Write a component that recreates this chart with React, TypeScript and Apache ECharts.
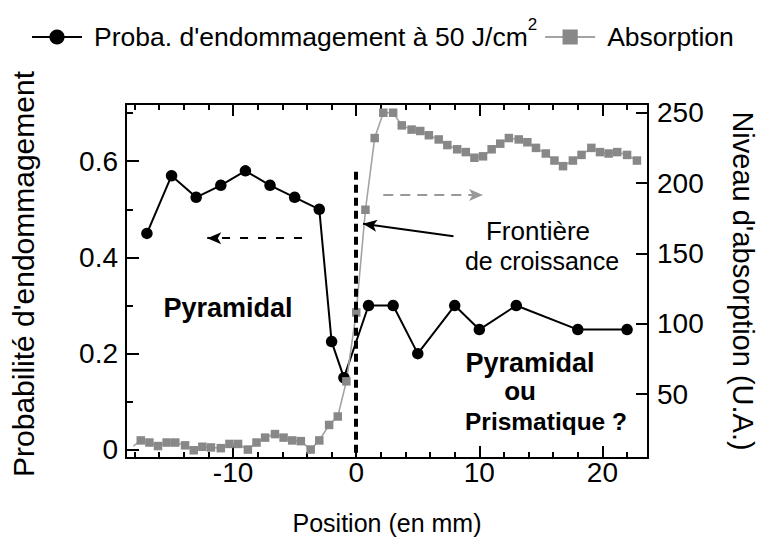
import React, { useEffect, useRef } from 'react';
import * as echarts from 'echarts';

// ---------- data ----------
const PROBA = "Proba. d'endommagement à 50 J/cm2";
const ABS = 'Absorption';

const probaX = [-17, -15, -13, -11, -9, -7, -5, -3, -2, -1, 1, 3, 5, 8, 10, 13, 18, 22];
const probaY = [0.45, 0.57, 0.525, 0.55, 0.58, 0.55, 0.525, 0.5, 0.225, 0.15, 0.3, 0.3, 0.2, 0.3, 0.25, 0.3, 0.25, 0.25];

const absX = [
  -18.1, -17.5, -16.8, -16.1, -15.4, -14.7, -13.9, -13.2, -12.5, -11.8, -11.0, -10.3, -9.6, -8.8, -8.1,
  -7.4, -6.6, -5.9, -5.2, -4.5, -3.7, -3.0, -2.2, -1.5, -0.8, 0.0, 0.75, 1.5, 2.2, 3.0, 3.7, 4.5, 5.2,
  5.9, 6.7, 7.4, 8.2, 8.9, 9.6, 10.3, 11.0, 11.7, 12.4, 13.2, 13.9, 14.6, 15.4, 16.1, 16.8, 17.6, 18.3,
  19.1, 19.8, 20.5, 21.2, 22.0, 22.8,
];
const absY = [
  13, 17, 15.5, 13, 15.5, 15.5, 13.5, 10, 12.5, 12, 11.5, 14.5, 14.5, 10.5, 15.5,
  19, 21.5, 19, 17, 16.5, 10.5, 17, 28, 34, 59, 108, 181, 232, 250, 250, 241, 238, 237,
  234, 231, 227, 224, 222, 218, 219, 224, 228, 232, 231, 229, 225, 221, 216, 212, 216, 220,
  225, 222, 221, 222, 220, 216,
];

const xRange = [-18.7, 23.7];
const yLeftRange = [-0.017, 0.719];
const yRightRange = [4.5, 256.2];

const boundaryX = 0;
const boundaryTop = 0.578;

// annotation arrows (data units of the left axis)
const leftArrow = { from: [-4.4, 0.44], to: [-12.1, 0.44] };
const rightArrow = { from: [2.2, 0.53], to: [10.3, 0.53] };
const frontArrow = { from: [7.9, 0.444], to: [0.55, 0.47] };

const FONT = "'Liberation Sans', Arial, Helvetica, sans-serif";

const isMult = (v: number, step: number) => Math.abs(v / step - Math.round(v / step)) < 1e-6;

const tickStyle = { color: '#000', width: 2 };

function buildOption(): any {
  const axisLine = { show: true, onZero: false, lineStyle: { color: '#000', width: 2 } };
  const xCommon = {
    type: 'value',
    min: xRange[0],
    max: xRange[1],
    splitNumber: 5,
    splitLine: { show: false },
    axisLine,
    axisTick: { show: true, inside: true, length: 12, lineStyle: tickStyle },
    minorTick: { show: true, splitNumber: 5, length: 6, lineStyle: tickStyle },
  };
  const bold = (text: string, x: number, y: number, size: number) => ({
    type: 'text',
    x,
    y,
    style: { text, fontSize: size, fontWeight: 'bold', fontFamily: FONT, fill: '#000', align: 'center', verticalAlign: 'middle' },
  });
  const plain = (text: string, x: number, y: number, size: number) => ({
    type: 'text',
    x,
    y,
    style: { text, fontSize: size, fontFamily: FONT, fill: '#000', align: 'center', verticalAlign: 'middle' },
  });
  return {
    animation: false,
    backgroundColor: '#fff',
    textStyle: { fontFamily: FONT },
    legend: {
      top: 16,
      left: 31,
      padding: 0,
      itemWidth: 50,
      itemHeight: 19,
      itemGap: 7,
      data: [PROBA, ABS],
      formatter: (name: string) =>
        name === PROBA ? "Proba. d'endommagement à 50 J/cm{sup|2}" : name,
      textStyle: {
        fontSize: 26.5,
        color: '#000',
        fontFamily: FONT,
        lineHeight: 42,
        padding: [0, 0, 0, 7],
        rich: {
          sup: { fontSize: 17, fontFamily: FONT, color: '#000', verticalAlign: 'top', lineHeight: 17 },
        },
      },
    },
    grid: { left: 126, right: 116, top: 104, bottom: 88 },
    xAxis: [
      {
        ...xCommon,
        position: 'bottom',
        name: 'Position (en mm)',
        nameLocation: 'middle',
        nameGap: 52,
        nameTextStyle: { fontSize: 25, color: '#000', fontFamily: FONT },
        axisLabel: {
          show: true,
          fontSize: 28,
          color: '#000',
          fontFamily: FONT,
          margin: 0,
          formatter: (v: number) => (isMult(v, 10) ? String(v) : ''),
        },
      },
      {
        ...xCommon,
        position: 'top',
        axisLabel: { show: false },
      },
    ],
    yAxis: [
      {
        type: 'value',
        position: 'left',
        min: yLeftRange[0],
        max: yLeftRange[1],
        splitNumber: 4,
        splitLine: { show: false },
        axisLine,
        axisTick: { show: true, inside: true, length: 13, lineStyle: tickStyle },
        minorTick: { show: true, splitNumber: 2, length: 7, lineStyle: tickStyle },
        axisLabel: {
          fontSize: 28,
          color: '#000',
          fontFamily: FONT,
          margin: 8,
          formatter: (v: number) => (isMult(v, 0.2) ? String(Math.round(v * 10) / 10) : ''),
        },
        name: "Probabilité d'endommagement",
        nameLocation: 'middle',
        nameGap: 88,
        nameTextStyle: { fontSize: 30, color: '#000', fontFamily: FONT, padding: [0, 0, 0, 14] },
      },
      {
        type: 'value',
        position: 'right',
        min: yRightRange[0],
        max: yRightRange[1],
        splitNumber: 5,
        splitLine: { show: false },
        axisLine,
        axisTick: { show: true, inside: true, length: 12, lineStyle: tickStyle },
        axisLabel: {
          fontSize: 28,
          color: '#000',
          fontFamily: FONT,
          margin: 9,
          formatter: (v: number) => (isMult(v, 50) ? String(Math.round(v)) : ''),
        },
        name: "Niveau d'absorption (U.A.)",
        nameLocation: 'middle',
        nameRotate: -90,
        nameGap: 80,
        nameTextStyle: { fontSize: 29, color: '#000', fontFamily: FONT },
      },
    ],
    series: [
      {
        name: PROBA,
        type: 'line',
        xAxisIndex: 0,
        yAxisIndex: 0,
        data: probaX.map((x, i) => [x, probaY[i]]),
        symbol: 'circle',
        symbolSize: 11.5,
        itemStyle: { color: '#000' },
        lineStyle: { color: '#000', width: 2 },
        emphasis: { disabled: true },
        markLine: {
          silent: true,
          symbol: ['none', 'none'],
          label: { show: false },
          emphasis: { disabled: true },
          data: [
            [
              { coord: [boundaryX, boundaryTop], lineStyle: { color: '#000', width: 4, type: [8, 5] } },
              { coord: [boundaryX, yLeftRange[0]], lineStyle: { color: '#000', width: 4, type: [8, 5] } },
            ],
            [
              { coord: leftArrow.from, lineStyle: { color: '#000', width: 2, type: [8, 10] } },
              { coord: leftArrow.to, symbol: 'arrow', symbolSize: [9, 14], lineStyle: { color: '#000', width: 2, type: [8, 10] } },
            ],
            [
              { coord: rightArrow.from, lineStyle: { color: '#999', width: 2, type: [10, 7] } },
              { coord: rightArrow.to, symbol: 'arrow', symbolSize: [9, 14], itemStyle: { color: '#999' }, lineStyle: { color: '#999', width: 2, type: [10, 7] } },
            ],
            [
              { coord: frontArrow.from, lineStyle: { color: '#000', width: 2, type: 'solid' } },
              { coord: frontArrow.to, symbol: 'arrow', symbolSize: [9, 14], lineStyle: { color: '#000', width: 2, type: 'solid' } },
            ],
          ],
        },
      },
      {
        name: ABS,
        type: 'line',
        xAxisIndex: 0,
        yAxisIndex: 1,
        data: absX.map((x, i) => (i === 0 ? { value: [x, absY[i]], symbol: 'none' } : [x, absY[i]])),
        symbol: 'rect',
        symbolSize: 8.5,
        itemStyle: { color: '#888' },
        lineStyle: { color: '#a3a3a3', width: 1.6 },
        emphasis: { disabled: true },
      },
    ],
    graphic: [
      bold('Pyramidal', 228, 308, 27),
      bold('Pyramidal', 530, 363, 27),
      bold('ou', 520, 391, 26),
      bold('Prismatique ?', 546, 421, 24.5),
      plain('Frontière', 538, 231, 26),
      plain('de croissance', 542, 261, 25),
    ],
  };
}

export default function App() {
  const ref = useRef<HTMLDivElement>(null);
  useEffect(() => {
    const chart = echarts.init(ref.current as HTMLDivElement, null, { renderer: 'svg' });
    chart.setOption(buildOption());
    return () => chart.dispose();
  }, []);
  return (
    <div
      ref={ref}
      style={{ position: 'fixed', left: 0, top: 0, width: 765, height: 546, background: '#fff' }}
    />
  );
}
